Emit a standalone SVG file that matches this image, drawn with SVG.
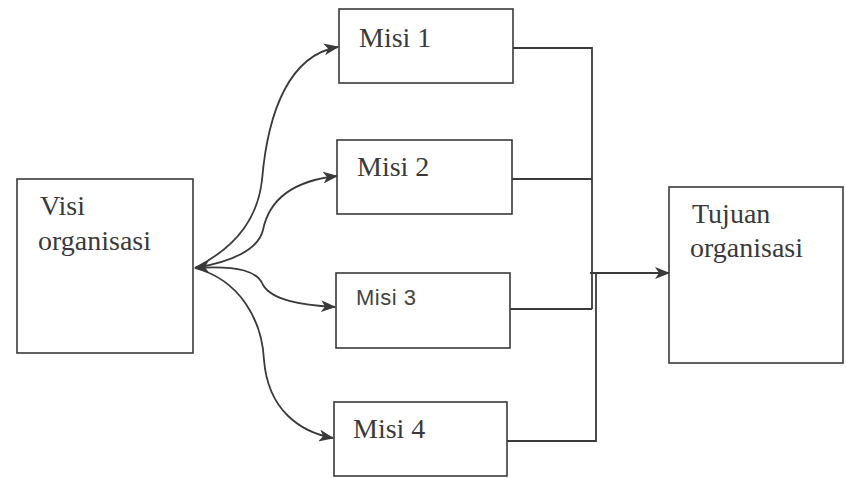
<svg xmlns="http://www.w3.org/2000/svg" width="846" height="478" viewBox="0 0 846 478">
<style>
.box{fill:#fff;stroke:#3a3a3a;stroke-width:1.6}
.t{font-family:"Liberation Serif","Times New Roman",serif;font-size:28px;fill:#3a3a3a}
.ts{font-family:"Liberation Sans",Arial,sans-serif;font-size:22px;fill:#444;letter-spacing:0.5px}
.c{fill:none;stroke:#3a3a3a;stroke-width:1.8}
</style>
<defs>
<marker id="ah" viewBox="0 0 15 12" refX="14" refY="6" markerWidth="15" markerHeight="12" markerUnits="userSpaceOnUse" orient="auto-start-reverse">
<path d="M0,0 L15,6 L0,12 L4,6 Z" fill="#3a3a3a"/>
</marker>
</defs>
<rect width="846" height="478" fill="#fff"/>
<g id="visi">
<rect class="box" x="17" y="179" width="176" height="174"/>
<text class="t" x="40" y="215">Visi</text>
<text class="t" x="38" y="250">organisasi</text>
</g>
<g id="misi1">
<rect class="box" x="339" y="9" width="174" height="74"/>
<text class="t" x="359" y="47">Misi 1</text>
</g>
<g id="misi2">
<rect class="box" x="337" y="140" width="175" height="74"/>
<text class="t" x="357" y="176">Misi 2</text>
</g>
<g id="misi3">
<rect class="box" x="336" y="273" width="174" height="75"/>
<text class="ts" x="356" y="305">Misi 3</text>
</g>
<g id="misi4">
<rect class="box" x="334" y="402" width="173" height="74"/>
<text class="t" x="353" y="438">Misi 4</text>
</g>
<g id="tujuan">
<rect class="box" x="669" y="187" width="174" height="176"/>
<text class="t" x="692" y="223">Tujuan</text>
<text class="t" x="690" y="257">organisasi</text>
</g>
<g id="connectors">
<path class="c" d="M195,268 C240,245 258,215 262,180 C268,110 290,55 338,47" marker-end="url(#ah)"/>
<path class="c" d="M195,268 C230,262 258,250 263,230 C270,195 300,180 337,176" marker-end="url(#ah)"/>
<path class="c" d="M195,268 C240,265 258,272 263,285 C272,300 300,305 335,307" marker-start="url(#ah)" marker-end="url(#ah)"/>
<path class="c" d="M195,268 C240,280 262,320 264,360 C268,410 300,432 333,438" marker-end="url(#ah)"/>
<path class="c" d="M513,48 H592 V309"/>
<path class="c" d="M512,179 H592"/>
<path class="c" d="M510,309 H592"/>
<path class="c" d="M507,441 H596 V273"/>
<path class="c" d="M590,273 H669" marker-end="url(#ah)"/>
</g>
</svg>
